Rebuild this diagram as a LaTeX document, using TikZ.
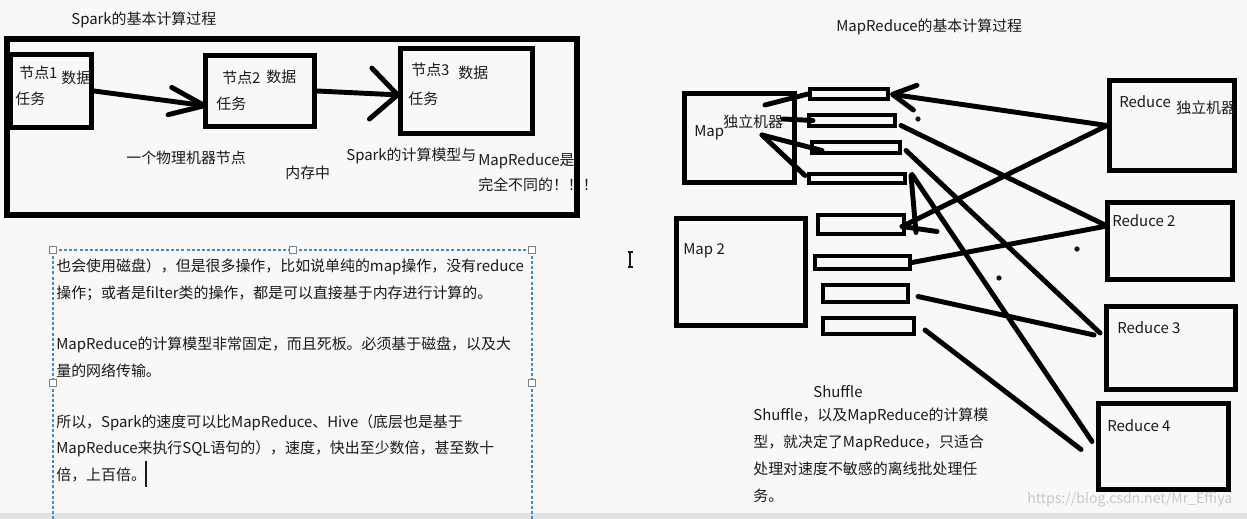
\documentclass[tikz,border=0pt]{standalone}
\usepackage{fontspec}
\setmainfont{Noto Sans CJK SC}
\usetikzlibrary{arrows.meta,positioning,calc}
\definecolor{paper}{RGB}{248,248,248}
\definecolor{ink}{RGB}{25,25,25}
\definecolor{selblue}{RGB}{70,140,195}
\definecolor{barcol}{RGB}{226,226,226}
\definecolor{markcol}{RGB}{200,200,200}
\tikzset{
  box/.style={draw, line width=2.8pt, inner sep=0pt},
  part/.style={draw, line width=2.3pt, inner sep=0pt},
  lbl/.style={anchor=west, inner sep=0pt, text=ink, font=\fontsize{8.5}{10}\selectfont},
  conn/.style={line width=2.8pt, line cap=round},
  handle/.style={draw=gray, fill=white, line width=0.5pt, minimum size=3.5pt, inner sep=0pt},
}
\begin{document}
\begin{tikzpicture}[x=0.02cm, y=-0.02cm]
      \fill[paper] (0,0) rectangle (1247,519);
      \useasboundingbox (0,0) rectangle (1247,519);
      \fill[barcol] (0,513) rectangle (1247,519);

      %% Spark side
      \node[lbl] (sparktitle) at (71,20) {Spark的基本计算过程};
      \node (frame) at (292,127) [box, line width=3.4pt, minimum width=11.4cm, minimum height=3.52cm] {};
      \node (n1) at (51,91) [box, minimum width=1.62cm, minimum height=1.46cm] {};
      \node (n2) at (260,91) [box, minimum width=2.18cm, minimum height=1.42cm] {};
      \node (n3) at (466.5,91) [box, minimum width=2.64cm, minimum height=1.70cm] {};
      \node[lbl] (n1name) at (19,73) {节点1};
      \node[lbl] (n1data) at (61,78) {数据};
      \node[lbl] (n1task) at (15,99) {任务};
      \node[lbl] (n2name) at (222,78) {节点2};
      \node[lbl] (n2data) at (266,77) {数据};
      \node[lbl] (n2task) at (216,104) {任务};
      \node[lbl] (n3name) at (411,70) {节点3};
      \node[lbl] (n3data) at (458,73) {数据};
      \node[lbl] (n3task) at (408,99) {任务};

      \draw[conn, -{Straight Barb[length=0.7cm, width=0.55cm, round]}] (n1.east) -- ($(n2.west)+(4,15)$);
      \draw[conn, -{Straight Barb[length=0.54cm, width=1.02cm, round]}] (n2.east) -- ($(n3.west)+(2,4)$);

      \node[lbl] (machine) at (126,158) {一个物理机器节点};
      \node[lbl] (mem) at (285,173) {内存中};
      \node[lbl] (cmp1) at (346,156) {Spark的计算模型与};
      \node[lbl] (cmp2) at (478,161) {MapReduce是};
      \node[lbl] (cmp3) at (478,185) {完全不同的！！！};

      %% text box
      \draw[selblue, line width=0.6pt, dash pattern=on 1.7pt off 1.2pt] (53,519) -- (53,250) -- (532,250) -- (532,519);
      \node[handle] (h1) at (53,250) {};
      \node[handle] (h2) at (293,250) {};
      \node[handle] (h3) at (532,250) {};
      \node[handle] (h4) at (53,383) {};
      \node[handle] (h5) at (532,383) {};
      \node[lbl] (t1) at (56,267) {也会使用磁盘），但是很多操作，比如说单纯的map操作，没有reduce};
      \node[lbl] (t2) at (56,293) {操作；或者是filter类的操作，都是可以直接基于内存进行计算的。};
      \node[lbl] (t3) at (56,345) {MapReduce的计算模型非常固定，而且死板。必须基于磁盘，以及大};
      \node[lbl] (t4) at (56,371) {量的网络传输。};
      \node[lbl] (t5) at (56,423) {所以，Spark的速度可以比MapReduce、Hive（底层也是基于};
      \node[lbl] (t6) at (56,449) {MapReduce来执行SQL语句的），速度，快出至少数倍，甚至数十};
      \node[lbl] (t7) at (56,475) {倍，上百倍。};
      \draw[ink, line width=0.7pt] (146,461) -- (146,487);

      %% mouse cursor
      \draw[ink, line width=0.6pt] (627.5,252) -- (632.5,252) (630,252) -- (630,267) (627.5,267) -- (632.5,267);

      %% MapReduce side
      \node[lbl] (mrtitle) at (836,27) {MapReduce的基本计算过程};
      \node (map) at (739.5,138) [box, minimum width=2.2cm, minimum height=1.78cm] {};
      \node (map2) at (741,272) [box, minimum width=2.58cm, minimum height=2.14cm] {};
      \node (red1) at (1172,125.5) [box, minimum width=2.5cm, minimum height=1.8cm] {};
      \node (red2) at (1170,241) [box, minimum width=2.5cm, minimum height=1.54cm] {};
      \node (red3) at (1171,348) [box, minimum width=2.58cm, minimum height=1.66cm] {};
      \node (red4) at (1163.5,446.5) [box, minimum width=2.6cm, minimum height=1.72cm] {};
      \node[lbl] (maplbl) at (694,133) {Map};
      \node[lbl] (mapown) at (723,122) {独立机器};
      \node[lbl] (map2lbl) at (683,251) {Map 2};
      \node[lbl] (red1lbl) at (1119,102) {Reduce};
      \node[lbl] (red1own) at (1176,108) {独立机器};
      \node[lbl] (red2lbl) at (1112,221) {Reduce 2};
      \node[lbl] (red3lbl) at (1117,328) {Reduce 3};
      \node[lbl] (red4lbl) at (1107,426) {Reduce 4};

      \node (r1) at (849,94) [part, minimum width=1.56cm, minimum height=0.2cm] {};
      \node (r2) at (852,120.5) [part, minimum width=1.72cm, minimum height=0.22cm] {};
      \node (r3) at (856,147.5) [part, minimum width=1.76cm, minimum height=0.22cm] {};
      \node (r4) at (857,178.5) [part, minimum width=1.92cm, minimum height=0.18cm] {};
      \node (r5) at (861,224.5) [part, minimum width=1.72cm, minimum height=0.38cm] {};
      \node (r6) at (862.5,262.5) [part, minimum width=1.9cm, minimum height=0.26cm] {};
      \node (r7) at (865.5,293.5) [part, minimum width=1.7cm, minimum height=0.34cm] {};
      \node (r8) at (868.5,326) [part, minimum width=1.82cm, minimum height=0.32cm] {};

      \coordinate (mapa) at (765,105);
      \coordinate (mapb) at (783,119);
      \coordinate (mapc) at (762,135);
      \coordinate (red2in) at ($(red2.west)+(2,-15)$);
      \coordinate (red3in) at ($(red3.west)+(-4,-15)$);

      \draw[conn] (mapa) -- (r1.west);
      \draw[conn] (mapb) -- ($(r2.west)+(6,0)$);
      \draw[conn] (mapc) -- ($(r3.west)+(12,3)$);
      \draw[conn] (mapc) -- ($(r4.west)+(-2,-3)$);

      \draw[conn, -{Straight Barb[length=0.46cm, width=0.5cm, round]}] (red1.west) -- (r1.east);
      \draw[conn] (red1.west) -- ($(r5.east)+(-4,2)$);
      \draw[conn] ($(r5.east)+(-4,2)$) -- ++(35,5);
      \draw[conn] ($(r4.east)+(4,-3)$) -- ($(r5.east)+(10,8)$);

      \draw[conn] ($(r2.east)+(4,5)$) -- (red2in);
      \draw[conn] (red2in) -- (r6.east);
      \draw[conn] ($(r3.east)+(4,3)$) -- (red3in);
      \draw[conn] ($(r7.east)+(8,3)$) -- ($(red3.west)+(-10,-13)$);
      \draw[conn] ($(r4.east)+(5,-4)$) -- ($(red4.west)+(-4,-5)$);
      \draw[conn] ($(r8.east)+(9,4)$) -- ($(red4.west)+(-15,3)$);

      \fill[ink] (918,119) circle (1.5pt);
      \fill[ink] (1077,249) circle (1.5pt);
      \fill[ink] (999,278) circle (1.5pt);

      \node[lbl] (shuffle) at (813,392) {Shuffle};
      \node[lbl] (s1) at (753,416) {Shuffle，以及MapReduce的计算模};
      \node[lbl] (s2) at (753,443) {型，就决定了MapReduce，只适合};
      \node[lbl] (s3) at (753,469) {处理对速度不敏感的离线批处理任};
      \node[lbl] (s4) at (753,496) {务。};
      \node[lbl, text=markcol, font=\fontsize{8}{10}\selectfont] (mark) at (1027,500) {https://blog.csdn.net/Mr\_Effiya};

    \end{tikzpicture}
\end{document}
